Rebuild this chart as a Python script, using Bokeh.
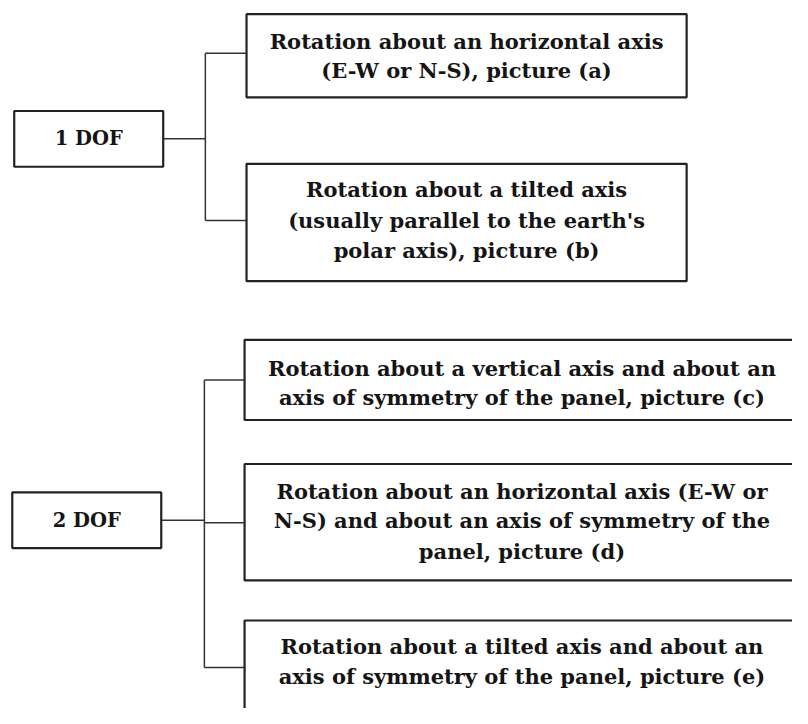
from bokeh.plotting import figure
from bokeh.models import Range1d, ColumnDataSource
from bokeh.embed import file_html
from bokeh.resources import INLINE
from bokeh.core.properties import value

# ---- content ----
groups = ["1 DOF", "2 DOF"]
options_1dof = [
    ["Rotation about an horizontal axis", "(E-W or N-S), picture (a)"],
    ["Rotation about a tilted axis", "(usually parallel to the earth's", "polar axis), picture (b)"],
]
options_2dof = [
    ["Rotation about a vertical axis and about an", "axis of symmetry of the panel, picture (c)"],
    ["Rotation about an horizontal axis (E-W or", "N-S) and about an axis of symmetry of the", "panel, picture (d)"],
    ["Rotation about a tilted axis and about an", "axis of symmetry of the panel, picture (e)"],
]

# ---- layout (reference pixel coordinates) ----
group_boxes = [(14, 166, 113, 170), (12, 164, 503, 560)]
group_trunk_x = [209, 208]
opt_boxes_1 = [(251, 700, 14, 99), (251, 700, 167, 287)]
opt_boxes_2 = [(249, 815, 347, 429), (249, 815, 474, 593), (249, 815, 634, 740)]
opt_link_y_1 = [54, 225]
opt_link_y_2 = [388, 534, 682]
line_centers_1 = [[42, 72], [193, 225, 256]]
line_centers_2 = [[376, 406], [502, 532, 563], [661, 691]]

FONT = "DejaVu Serif"
INK = "#151515"

p = figure(width=792, height=708, output_backend="svg", toolbar_location=None,
           x_range=Range1d(0, 808), y_range=Range1d(724, 0),
           min_border=0, outline_line_color=None)
p.axis.visible = False
p.grid.visible = False
p.background_fill_color = "white"
p.border_fill_color = "white"

# connectors
xs, ys = [], []
all_boxes = [opt_boxes_1, opt_boxes_2]
all_links = [opt_link_y_1, opt_link_y_2]
for gi, gb in enumerate(group_boxes):
    cy = (gb[2] + gb[3]) / 2
    tx = group_trunk_x[gi]
    links = all_links[gi]
    obs = all_boxes[gi]
    xs.append([gb[1], tx]); ys.append([cy, cy])
    xs.append([tx, tx]); ys.append([min(links), max(links)])
    for ob, ly in zip(obs, links):
        xs.append([tx, ob[0]]); ys.append([ly, ly])
p.multi_line(xs=xs, ys=ys, line_color="#333333", line_width=1.5)

# boxes
L, R, T, B = [], [], [], []
for b in group_boxes + opt_boxes_1 + opt_boxes_2:
    L.append(b[0]); R.append(b[1]); T.append(b[2]); B.append(b[3])
p.quad(left=L, right=R, top=T, bottom=B, fill_color="white",
       line_color="#222222", line_width=2.2)

# group texts
gx, gy = [], []
for gb in group_boxes:
    gx.append((gb[0] + gb[1]) / 2); gy.append((gb[2] + gb[3]) / 2)
p.text(x=gx, y=gy, text=groups, text_align="center",
       text_baseline="middle", text_font=value(FONT), text_font_style="bold",
       text_font_size="19.5px", text_color=INK)

# option texts
tx_, ty_, tt_ = [], [], []
for obs, opts, centers in [(opt_boxes_1, options_1dof, line_centers_1),
                           (opt_boxes_2, options_2dof, line_centers_2)]:
    for ob, lines, cys in zip(obs, opts, centers):
        cx = (ob[0] + ob[1]) / 2
        if ob[1] > 808:
            cx = ob[0] + 283
        for ln, cy in zip(lines, cys):
            tx_.append(cx); ty_.append(cy); tt_.append(ln)
src = ColumnDataSource(dict(x=tx_, y=ty_, t=tt_))
p.text(x="x", y="y", text="t", source=src, text_align="center",
       text_baseline="middle", text_font=value(FONT), text_font_style="bold",
       text_font_size="21px", text_color=INK)

open("out.html", "w").write(file_html(p, INLINE))
